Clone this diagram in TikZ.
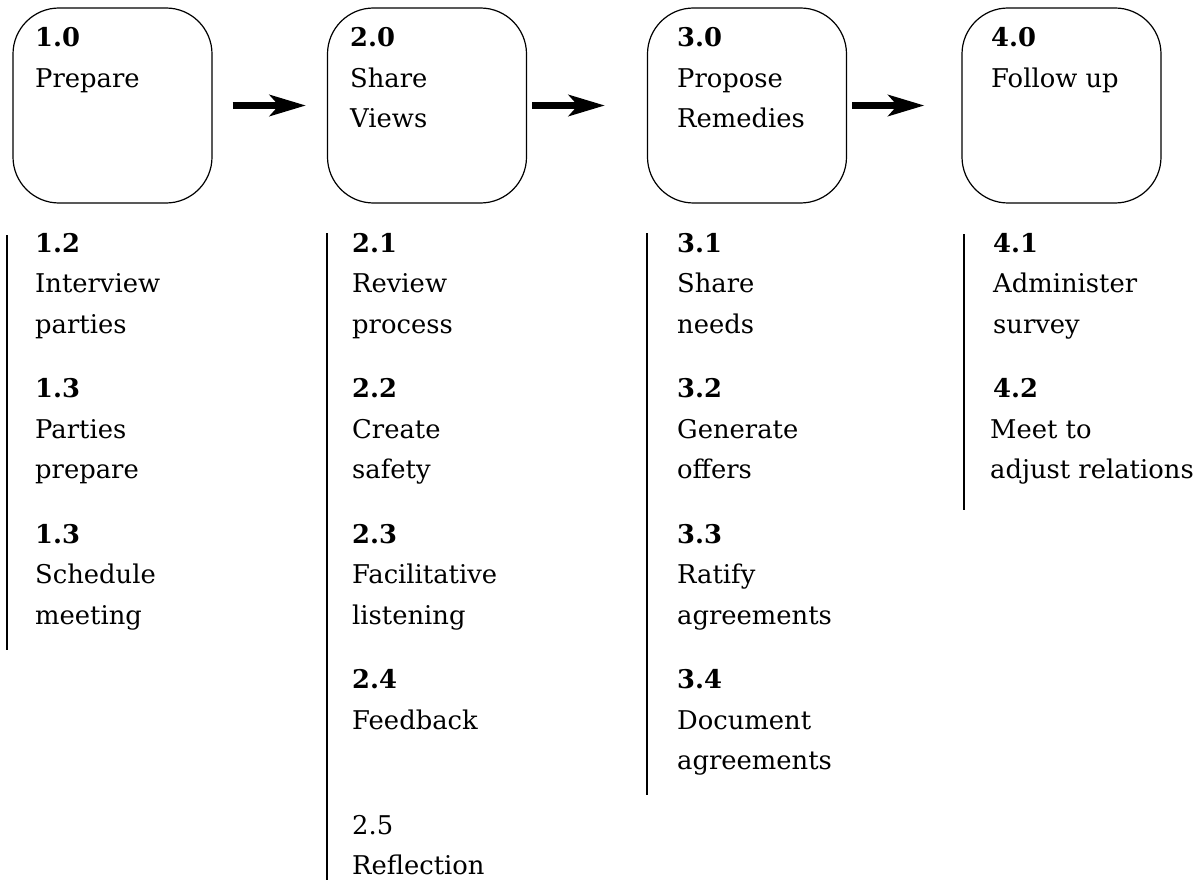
\documentclass[tikz,border=0pt]{standalone}
\usepackage{fontspec}
\setmainfont{DejaVu Serif}
\usetikzlibrary{arrows.meta}

\tikzset{
  stagebox/.style={draw, line width=1.2pt, rounded corners=46pt,
    minimum width=199pt, minimum height=195pt, inner sep=0pt},
  txt/.style={anchor=base west, inner sep=0pt,
    font=\fontsize{25.8}{30}\selectfont},
  flow/.style={line width=7pt,
    -{Stealth[length=36pt, width=21pt, inset=9pt]}},
  rule/.style={line width=1.3pt},
}

% one text line per node, stacked on a fixed baseline pitch
\newcommand{\linestack}[4]{%
  \foreach \t [count=\i] in {#4} {
    \node[txt] (#1-\i) at ({#2},{#3+(\i-1)*40.5}) {\t};
  }%
}

\begin{document}
\begin{tikzpicture}[x=1pt, y=-1pt]
\useasboundingbox (0,0) rectangle (1202,880);

% stage boxes
\node[stagebox] (s1) at (112.5,105.5) {};
\node[stagebox] (s2) at (427,105.5) {};
\node[stagebox] (s3) at (747,105.5) {};
\node[stagebox] (s4) at (1061.5,105.5) {};

% stage titles
\linestack{t1}{35}{47}{{\bfseries 1.0}, Prepare}
\linestack{t2}{350}{47}{{\bfseries 2.0}, Share, Views}
\linestack{t3}{677}{47}{{\bfseries 3.0}, Propose, Remedies}
\linestack{t4}{991}{47}{{\bfseries 4.0}, Follow up}

% flow between stages
\draw[flow, shorten <=20pt, shorten >=21pt] (s1.east) -- (s2.west);
\draw[flow, shorten <=5pt, shorten >=42pt] (s2.east) -- (s3.west);
\draw[flow, shorten <=5pt, shorten >=37pt] (s3.east) -- (s4.west);

% rules to the left of each task list
\coordinate (r1a) at (7,235);   \coordinate (r1b) at (7,650);
\coordinate (r2a) at (327,233); \coordinate (r2b) at (327,880);
\coordinate (r3a) at (647,233); \coordinate (r3b) at (647,795);
\coordinate (r4a) at (964,234); \coordinate (r4b) at (964,510);
\draw[rule] (r1a) -- (r1b);
\draw[rule] (r2a) -- (r2b);
\draw[rule] (r3a) -- (r3b);
\draw[rule] (r4a) -- (r4b);

% task lists
\linestack{a1}{35}{252}{{\bfseries 1.2}, Interview, parties}
\linestack{a2}{35}{397.5}{{\bfseries 1.3}, Parties, prepare}
\linestack{a3}{35}{543}{{\bfseries 1.3}, Schedule, meeting}

\linestack{b1}{352}{252}{{\bfseries 2.1}, Review, process}
\linestack{b2}{352}{397.5}{{\bfseries 2.2}, Create, safety}
\linestack{b3}{352}{543}{{\bfseries 2.3}, Facilitative, listening}
\linestack{b4}{352}{688.5}{{\bfseries 2.4}, Feedback}
\linestack{b5}{352}{834}{2.5, Reflection}

\linestack{c1}{677}{252}{{\bfseries 3.1}, Share, needs}
\linestack{c2}{677}{397.5}{{\bfseries 3.2}, Generate, offers}
\linestack{c3}{677}{543}{{\bfseries 3.3}, Ratify, agreements}
\linestack{c4}{677}{688.5}{{\bfseries 3.4}, Document, agreements}

\linestack{d1}{993}{252}{{\bfseries 4.1}, Administer, survey}
\node[txt] (d2-1) at (993,397.5) {\bfseries 4.2};
\linestack{d2}{990}{438}{Meet to, adjust relations}

\end{tikzpicture}
\end{document}
